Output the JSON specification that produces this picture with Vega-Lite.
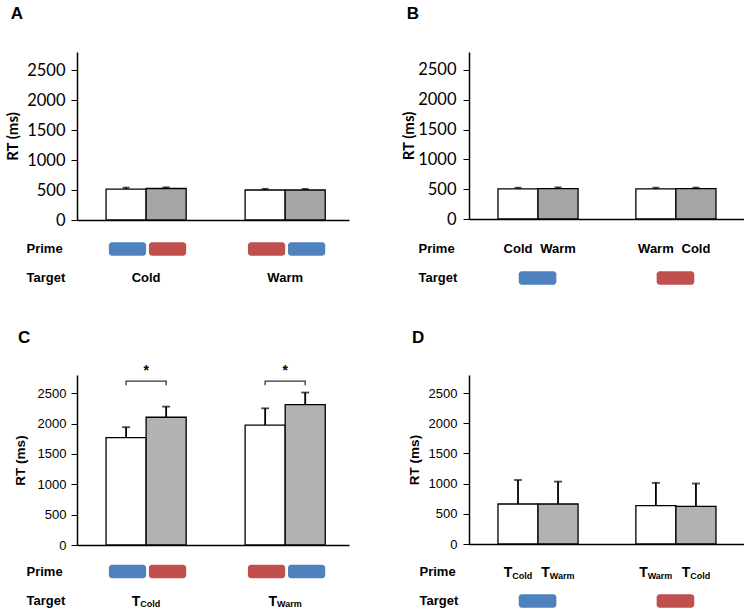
{
  "$schema": "https://vega.github.io/schema/vega-lite/v6.json",
  "background": "white",
  "padding": {"left": 5, "top": 5, "right": 0, "bottom": 0},
  "columns": 2,
  "spacing": {"row": 43, "column": 52},
  "datasets": {
    "A": [
      {"target": "Cold", "cong": "Congruent", "prime": "Cold", "rt": 515, "upper": 540},
      {"target": "Cold", "cong": "Incongruent", "prime": "Warm", "rt": 525, "upper": 545},
      {"target": "Warm", "cong": "Congruent", "prime": "Warm", "rt": 500, "upper": 520},
      {"target": "Warm", "cong": "Incongruent", "prime": "Cold", "rt": 500, "upper": 518}
    ],
    "B": [
      {"target": "Cold", "cong": "Congruent", "prime": "Cold", "rt": 505, "upper": 525},
      {"target": "Cold", "cong": "Incongruent", "prime": "Warm", "rt": 508, "upper": 530},
      {"target": "Warm", "cong": "Congruent", "prime": "Warm", "rt": 505, "upper": 525},
      {"target": "Warm", "cong": "Incongruent", "prime": "Cold", "rt": 508, "upper": 527}
    ],
    "C": [
      {"target": "Cold", "cong": "Congruent", "prime": "Cold", "rt": 1770, "upper": 1940},
      {"target": "Cold", "cong": "Incongruent", "prime": "Warm", "rt": 2104, "upper": 2279},
      {"target": "Warm", "cong": "Congruent", "prime": "Warm", "rt": 1974, "upper": 2251},
      {"target": "Warm", "cong": "Incongruent", "prime": "Cold", "rt": 2313, "upper": 2511}
    ],
    "D": [
      {"target": "Cold", "cong": "Congruent", "prime": "Cold", "rt": 663, "upper": 1061},
      {"target": "Cold", "cong": "Incongruent", "prime": "Warm", "rt": 663, "upper": 1034},
      {"target": "Warm", "cong": "Congruent", "prime": "Warm", "rt": 636, "upper": 1013},
      {"target": "Warm", "cong": "Incongruent", "prime": "Cold", "rt": 625, "upper": 1002}
    ],
    "groups": [{"target": "Cold"}, {"target": "Warm"}],
    "bracket": [
      {"target": "Cold", "cong": "Congruent", "y": 2630, "k": 1},
      {"target": "Cold", "cong": "Congruent", "y": 2700, "k": 2},
      {"target": "Cold", "cong": "Incongruent", "y": 2700, "k": 3},
      {"target": "Cold", "cong": "Incongruent", "y": 2630, "k": 4},
      {"target": "Warm", "cong": "Congruent", "y": 2630, "k": 1},
      {"target": "Warm", "cong": "Congruent", "y": 2700, "k": 2},
      {"target": "Warm", "cong": "Incongruent", "y": 2700, "k": 3},
      {"target": "Warm", "cong": "Incongruent", "y": 2630, "k": 4}
    ]
  },
  "concat": [
    {
      "width": 272, "height": 168,
      "title": {"text": "A", "anchor": "start", "frame": "bounds", "offset": 29, "dx": 5, "font": "Liberation Sans", "fontSize": 17, "fontWeight": "bold", "color": "black"},
      "layer": [
        {
          "data": {"name": "A"},
          "encoding": {
            "x": {"field": "target", "type": "nominal", "scale": {"domain": ["Cold", "Warm"], "paddingInner": 0.424, "paddingOuter": 0.19, "align": 0.55}, "axis": {"labels": false, "ticks": false, "title": null, "domainWidth": 1.5, "domainColor": "black"}},
            "xOffset": {"field": "cong", "type": "nominal", "scale": {"domain": ["Congruent", "Incongruent"], "paddingInner": 0, "paddingOuter": 0}}
          },
          "layer": [
            {"mark": {"type": "bar", "stroke": "black", "strokeWidth": 1.3},
             "encoding": {
               "y": {"field": "rt", "type": "quantitative", "scale": {"domain": [0, 2800], "nice": false}, "axis": {"orient": "left", "values": [0, 500, 1000, 1500, 2000, 2500], "format": "d", "labelOverlap": false, "title": "RT (ms)", "tickSize": 6, "tickColor": "black", "domainColor": "black", "domainWidth": 1.5, "labelFont": "Lato", "labelFontSize": 16.5, "labelColor": "black", "labelPadding": 6, "titleFont": "Lato", "titleFontSize": 15, "titleFontWeight": "bold", "titleColor": "black", "titlePadding": 6, "grid": false}},
               "fill": {"field": "cong", "type": "nominal", "scale": {"domain": ["Congruent", "Incongruent"], "range": ["#ffffff", "#a6a6a6"]}, "legend": null}
             }},
            {"mark": {"type": "rule", "color": "black", "strokeWidth": 1.8},
             "encoding": {"y": {"field": "rt", "type": "quantitative", "axis": {"orient": "left", "values": [0, 500, 1000, 1500, 2000, 2500], "format": "d", "labelOverlap": false, "title": "RT (ms)", "tickSize": 6, "tickColor": "black", "domainColor": "black", "domainWidth": 1.5, "labelFont": "Lato", "labelFontSize": 16.5, "labelColor": "black", "labelPadding": 6, "titleFont": "Lato", "titleFontSize": 15, "titleFontWeight": "bold", "titleColor": "black", "titlePadding": 6, "grid": false}}, "y2": {"field": "upper"}}},
            {"mark": {"type": "tick", "orient": "horizontal", "color": "black", "size": 7, "thickness": 1.8},
             "encoding": {"y": {"field": "upper", "type": "quantitative", "axis": {"orient": "left", "values": [0, 500, 1000, 1500, 2000, 2500], "format": "d", "labelOverlap": false, "title": "RT (ms)", "tickSize": 6, "tickColor": "black", "domainColor": "black", "domainWidth": 1.5, "labelFont": "Lato", "labelFontSize": 16.5, "labelColor": "black", "labelPadding": 6, "titleFont": "Lato", "titleFontSize": 15, "titleFontWeight": "bold", "titleColor": "black", "titlePadding": 6, "grid": false}}}}
          ]
        },
        {
          "layer": [
            {"data": {"name": "A"},
             "mark": {"type": "bar", "cornerRadius": 3, "width": {"band": 0.93}, "height": {"band": 0.46}},
             "encoding": {
               "x": {"field": "target", "type": "nominal", "scale": {"domain": ["Cold", "Warm"], "paddingInner": 0.424, "paddingOuter": 0.19, "align": 0.55}, "axis": {"labels": false, "ticks": false, "title": null, "domainWidth": 1.5, "domainColor": "black"}},
               "xOffset": {"field": "cong", "type": "nominal", "scale": {"domain": ["Congruent", "Incongruent"], "paddingInner": 0, "paddingOuter": 0}},
               "y": {"datum": "Prime", "type": "nominal", "scale": {"type": "band", "domain": ["Prime", "Target"], "range": [182.5, 240.5], "paddingInner": 0, "paddingOuter": 0}, "axis": {"orient": "left", "title": null, "domain": false, "ticks": false, "tickSize": 0, "labelAlign": "left", "labelPadding": 51, "labelFont": "Liberation Sans", "labelFontWeight": "bold", "labelFontSize": 13, "labelColor": "black", "grid": false}},
               "fill": {"field": "prime", "type": "nominal", "scale": {"domain": ["Cold", "Warm"], "range": ["#4f81bd", "#c0504d"]}, "legend": null}
             }},
            {"data": {"name": "groups"},
             "mark": {"type": "text", "font": "Liberation Sans", "fontWeight": "bold", "fontSize": 13, "color": "black", "baseline": "middle"},
             "encoding": {
               "x": {"field": "target", "type": "nominal"},
               "y": {"datum": "Target", "type": "nominal"},
               "text": {"field": "target"}
             }}
          ]
        }
      ],
      "resolve": {"scale": {"y": "independent", "fill": "independent"}, "axis": {"y": "independent"}}
    },
    {
      "width": 275, "height": 167,
      "title": {"text": "B", "anchor": "start", "frame": "bounds", "offset": 29, "dx": 5, "font": "Liberation Sans", "fontSize": 17, "fontWeight": "bold", "color": "black"},
      "layer": [
        {
          "data": {"name": "B"},
          "encoding": {
            "x": {"field": "target", "type": "nominal", "scale": {"domain": ["Cold", "Warm"], "paddingInner": 0.426, "paddingOuter": 0.21, "align": 0.5}, "axis": {"labels": false, "ticks": false, "title": null, "domainWidth": 1.5, "domainColor": "black"}},
            "xOffset": {"field": "cong", "type": "nominal", "scale": {"domain": ["Congruent", "Incongruent"], "paddingInner": 0, "paddingOuter": 0}}
          },
          "layer": [
            {"mark": {"type": "bar", "stroke": "black", "strokeWidth": 1.3},
             "encoding": {
               "y": {"field": "rt", "type": "quantitative", "scale": {"domain": [0, 2800], "nice": false}, "axis": {"orient": "left", "values": [0, 500, 1000, 1500, 2000, 2500], "format": "d", "labelOverlap": false, "title": "RT (ms)", "tickSize": 6, "tickColor": "black", "domainColor": "black", "domainWidth": 1.5, "labelFont": "Lato", "labelFontSize": 16.5, "labelColor": "black", "labelPadding": 7, "titleFont": "Lato", "titleFontSize": 15, "titleFontWeight": "bold", "titleColor": "black", "titlePadding": 1, "grid": false}},
               "fill": {"field": "cong", "type": "nominal", "scale": {"domain": ["Congruent", "Incongruent"], "range": ["#ffffff", "#a6a6a6"]}, "legend": null}
             }},
            {"mark": {"type": "rule", "color": "black", "strokeWidth": 1.8},
             "encoding": {"y": {"field": "rt", "type": "quantitative", "axis": {"orient": "left", "values": [0, 500, 1000, 1500, 2000, 2500], "format": "d", "labelOverlap": false, "title": "RT (ms)", "tickSize": 6, "tickColor": "black", "domainColor": "black", "domainWidth": 1.5, "labelFont": "Lato", "labelFontSize": 16.5, "labelColor": "black", "labelPadding": 7, "titleFont": "Lato", "titleFontSize": 15, "titleFontWeight": "bold", "titleColor": "black", "titlePadding": 1, "grid": false}}, "y2": {"field": "upper"}}},
            {"mark": {"type": "tick", "orient": "horizontal", "color": "black", "size": 7, "thickness": 1.8},
             "encoding": {"y": {"field": "upper", "type": "quantitative", "axis": {"orient": "left", "values": [0, 500, 1000, 1500, 2000, 2500], "format": "d", "labelOverlap": false, "title": "RT (ms)", "tickSize": 6, "tickColor": "black", "domainColor": "black", "domainWidth": 1.5, "labelFont": "Lato", "labelFontSize": 16.5, "labelColor": "black", "labelPadding": 7, "titleFont": "Lato", "titleFontSize": 15, "titleFontWeight": "bold", "titleColor": "black", "titlePadding": 1, "grid": false}}}}
          ]
        },
        {
          "layer": [
            {"data": {"name": "B"},
             "mark": {"type": "text", "font": "Liberation Sans", "fontWeight": "bold", "fontSize": 13, "color": "black", "baseline": "middle"},
             "encoding": {
               "x": {"field": "target", "type": "nominal", "scale": {"domain": ["Cold", "Warm"], "paddingInner": 0.426, "paddingOuter": 0.21, "align": 0.5}, "axis": {"labels": false, "ticks": false, "title": null, "domainWidth": 1.5, "domainColor": "black"}},
               "xOffset": {"field": "cong", "type": "nominal", "scale": {"domain": ["Congruent", "Incongruent"], "paddingInner": 0, "paddingOuter": 0}},
               "y": {"datum": "Prime", "type": "nominal", "scale": {"type": "band", "domain": ["Prime", "Target"], "range": [182.5, 240.5], "paddingInner": 0, "paddingOuter": 0}, "axis": {"orient": "left", "title": null, "domain": false, "ticks": false, "tickSize": 0, "labelAlign": "left", "labelPadding": 51, "labelFont": "Liberation Sans", "labelFontWeight": "bold", "labelFontSize": 13, "labelColor": "black", "grid": false}},
               "text": {"field": "prime"}
             }},
            {"data": {"name": "groups"},
             "mark": {"type": "bar", "cornerRadius": 3, "width": {"band": 0.475}, "height": {"band": 0.46}},
             "encoding": {
               "x": {"field": "target", "type": "nominal"},
               "y": {"datum": "Target", "type": "nominal"},
               "fill": {"field": "target", "type": "nominal", "scale": {"domain": ["Cold", "Warm"], "range": ["#4f81bd", "#c0504d"]}, "legend": null}
             }}
          ]
        }
      ],
      "resolve": {"scale": {"y": "independent", "fill": "independent"}, "axis": {"y": "independent"}}
    },
    {
      "width": 272, "height": 170,
      "title": {"text": "C", "anchor": "start", "frame": "bounds", "offset": 17, "dx": 5, "font": "Liberation Sans", "fontSize": 17, "fontWeight": "bold", "color": "black"},
      "layer": [
        {
          "encoding": {
            "x": {"field": "target", "type": "nominal", "scale": {"domain": ["Cold", "Warm"], "paddingInner": 0.424, "paddingOuter": 0.19, "align": 0.55}, "axis": {"labels": false, "ticks": false, "title": null, "domainWidth": 1.5, "domainColor": "black"}}
          },
          "layer": [
            {"data": {"name": "C"},
             "mark": {"type": "bar", "stroke": "black", "strokeWidth": 1.3},
             "encoding": {
               "xOffset": {"field": "cong", "type": "nominal", "scale": {"domain": ["Congruent", "Incongruent"], "paddingInner": 0, "paddingOuter": 0}},
               "y": {"field": "rt", "type": "quantitative", "scale": {"domain": [0, 2800], "nice": false}, "axis": {"orient": "left", "values": [0, 500, 1000, 1500, 2000, 2500], "format": "d", "labelOverlap": false, "title": "RT (ms)", "tickSize": 6, "tickColor": "black", "domainColor": "black", "domainWidth": 1.5, "labelFont": "Liberation Sans", "labelFontSize": 13, "labelColor": "black", "labelPadding": 5, "titleFont": "Liberation Sans", "titleFontSize": 13.5, "titleFontWeight": "bold", "titleColor": "black", "titlePadding": 10, "grid": false}},
               "fill": {"field": "cong", "type": "nominal", "scale": {"domain": ["Congruent", "Incongruent"], "range": ["#ffffff", "#b2b2b2"]}, "legend": null}
             }},
            {"data": {"name": "C"},
             "mark": {"type": "rule", "color": "black", "strokeWidth": 1.8},
             "encoding": {"xOffset": {"field": "cong", "type": "nominal"}, "y": {"field": "rt", "type": "quantitative", "axis": {"orient": "left", "values": [0, 500, 1000, 1500, 2000, 2500], "format": "d", "labelOverlap": false, "title": "RT (ms)", "tickSize": 6, "tickColor": "black", "domainColor": "black", "domainWidth": 1.5, "labelFont": "Liberation Sans", "labelFontSize": 13, "labelColor": "black", "labelPadding": 5, "titleFont": "Liberation Sans", "titleFontSize": 13.5, "titleFontWeight": "bold", "titleColor": "black", "titlePadding": 10, "grid": false}}, "y2": {"field": "upper"}}},
            {"data": {"name": "C"},
             "mark": {"type": "tick", "orient": "horizontal", "color": "black", "size": 8, "thickness": 1.8},
             "encoding": {"xOffset": {"field": "cong", "type": "nominal"}, "y": {"field": "upper", "type": "quantitative", "axis": {"orient": "left", "values": [0, 500, 1000, 1500, 2000, 2500], "format": "d", "labelOverlap": false, "title": "RT (ms)", "tickSize": 6, "tickColor": "black", "domainColor": "black", "domainWidth": 1.5, "labelFont": "Liberation Sans", "labelFontSize": 13, "labelColor": "black", "labelPadding": 5, "titleFont": "Liberation Sans", "titleFontSize": 13.5, "titleFontWeight": "bold", "titleColor": "black", "titlePadding": 10, "grid": false}}}},
            {"data": {"name": "bracket"},
             "mark": {"type": "line", "color": "#333333", "strokeWidth": 1.3},
             "encoding": {"xOffset": {"field": "cong", "type": "nominal"}, "y": {"field": "y", "type": "quantitative", "axis": {"orient": "left", "values": [0, 500, 1000, 1500, 2000, 2500], "format": "d", "labelOverlap": false, "title": "RT (ms)", "tickSize": 6, "tickColor": "black", "domainColor": "black", "domainWidth": 1.5, "labelFont": "Liberation Sans", "labelFontSize": 13, "labelColor": "black", "labelPadding": 5, "titleFont": "Liberation Sans", "titleFontSize": 13.5, "titleFontWeight": "bold", "titleColor": "black", "titlePadding": 10, "grid": false}}, "detail": {"field": "target"}, "order": {"field": "k"}}},
            {"data": {"name": "groups"},
             "mark": {"type": "text", "text": "*", "font": "Liberation Sans", "fontSize": 14, "fontWeight": "bold", "color": "black", "baseline": "middle"},
             "encoding": {"y": {"datum": 2870, "type": "quantitative", "axis": {"orient": "left", "values": [0, 500, 1000, 1500, 2000, 2500], "format": "d", "labelOverlap": false, "title": "RT (ms)", "tickSize": 6, "tickColor": "black", "domainColor": "black", "domainWidth": 1.5, "labelFont": "Liberation Sans", "labelFontSize": 13, "labelColor": "black", "labelPadding": 5, "titleFont": "Liberation Sans", "titleFontSize": 13.5, "titleFontWeight": "bold", "titleColor": "black", "titlePadding": 10, "grid": false}}}}
          ]
        },
        {
          "layer": [
            {"data": {"name": "C"},
             "mark": {"type": "bar", "cornerRadius": 3, "width": {"band": 0.93}, "height": {"band": 0.46}},
             "encoding": {
               "x": {"field": "target", "type": "nominal", "scale": {"domain": ["Cold", "Warm"], "paddingInner": 0.424, "paddingOuter": 0.19, "align": 0.55}, "axis": {"labels": false, "ticks": false, "title": null, "domainWidth": 1.5, "domainColor": "black"}},
               "xOffset": {"field": "cong", "type": "nominal", "scale": {"domain": ["Congruent", "Incongruent"], "paddingInner": 0, "paddingOuter": 0}},
               "y": {"datum": "Prime", "type": "nominal", "scale": {"type": "band", "domain": ["Prime", "Target"], "range": [182, 240], "paddingInner": 0, "paddingOuter": 0}, "axis": {"orient": "left", "title": null, "domain": false, "ticks": false, "tickSize": 0, "labelAlign": "left", "labelPadding": 51, "labelFont": "Liberation Sans", "labelFontWeight": "bold", "labelFontSize": 13, "labelColor": "black", "grid": false}},
               "fill": {"field": "prime", "type": "nominal", "scale": {"domain": ["Cold", "Warm"], "range": ["#4f81bd", "#c0504d"]}, "legend": null}
             }},
            {"data": {"name": "groups"},
             "mark": {"type": "text", "text": "T", "align": "right", "baseline": "alphabetic", "dy": 5, "dx": {"expr": "datum.target == 'Cold' ? -5.75 : -8.2"}, "font": "Liberation Sans", "fontWeight": "bold", "fontSize": 14, "color": "black"},
             "encoding": {"x": {"field": "target", "type": "nominal"}, "y": {"datum": "Target", "type": "nominal"}}},
            {"data": {"name": "groups"},
             "mark": {"type": "text", "align": "left", "baseline": "alphabetic", "dy": 6.5, "dx": {"expr": "datum.target == 'Cold' ? -5.75 : -8.2"}, "font": "Liberation Sans", "fontWeight": "bold", "fontSize": 9, "color": "black"},
             "encoding": {"x": {"field": "target", "type": "nominal"}, "y": {"datum": "Target", "type": "nominal"}, "text": {"field": "target"}}}
          ]
        }
      ],
      "resolve": {"scale": {"y": "independent", "fill": "independent"}, "axis": {"y": "independent"}}
    },
    {
      "width": 275, "height": 169,
      "title": {"text": "D", "anchor": "start", "frame": "bounds", "offset": 28, "dx": 5, "font": "Liberation Sans", "fontSize": 17, "fontWeight": "bold", "color": "black"},
      "layer": [
        {
          "data": {"name": "D"},
          "encoding": {
            "x": {"field": "target", "type": "nominal", "scale": {"domain": ["Cold", "Warm"], "paddingInner": 0.426, "paddingOuter": 0.21, "align": 0.5}, "axis": {"labels": false, "ticks": false, "title": null, "domainWidth": 1.5, "domainColor": "black"}},
            "xOffset": {"field": "cong", "type": "nominal", "scale": {"domain": ["Congruent", "Incongruent"], "paddingInner": 0, "paddingOuter": 0}}
          },
          "layer": [
            {"mark": {"type": "bar", "stroke": "black", "strokeWidth": 1.3},
             "encoding": {
               "y": {"field": "rt", "type": "quantitative", "scale": {"domain": [0, 2800], "nice": false}, "axis": {"orient": "left", "values": [0, 500, 1000, 1500, 2000, 2500], "format": "d", "labelOverlap": false, "title": "RT (ms)", "tickSize": 6, "tickColor": "black", "domainColor": "black", "domainWidth": 1.5, "labelFont": "Liberation Sans", "labelFontSize": 13, "labelColor": "black", "labelPadding": 6, "titleFont": "Liberation Sans", "titleFontSize": 13.5, "titleFontWeight": "bold", "titleColor": "black", "titlePadding": 7, "grid": false}},
               "fill": {"field": "cong", "type": "nominal", "scale": {"domain": ["Congruent", "Incongruent"], "range": ["#ffffff", "#b2b2b2"]}, "legend": null}
             }},
            {"mark": {"type": "rule", "color": "black", "strokeWidth": 1.8},
             "encoding": {"y": {"field": "rt", "type": "quantitative", "axis": {"orient": "left", "values": [0, 500, 1000, 1500, 2000, 2500], "format": "d", "labelOverlap": false, "title": "RT (ms)", "tickSize": 6, "tickColor": "black", "domainColor": "black", "domainWidth": 1.5, "labelFont": "Liberation Sans", "labelFontSize": 13, "labelColor": "black", "labelPadding": 6, "titleFont": "Liberation Sans", "titleFontSize": 13.5, "titleFontWeight": "bold", "titleColor": "black", "titlePadding": 7, "grid": false}}, "y2": {"field": "upper"}}},
            {"mark": {"type": "tick", "orient": "horizontal", "color": "black", "size": 8, "thickness": 1.8},
             "encoding": {"y": {"field": "upper", "type": "quantitative", "axis": {"orient": "left", "values": [0, 500, 1000, 1500, 2000, 2500], "format": "d", "labelOverlap": false, "title": "RT (ms)", "tickSize": 6, "tickColor": "black", "domainColor": "black", "domainWidth": 1.5, "labelFont": "Liberation Sans", "labelFontSize": 13, "labelColor": "black", "labelPadding": 6, "titleFont": "Liberation Sans", "titleFontSize": 13.5, "titleFontWeight": "bold", "titleColor": "black", "titlePadding": 7, "grid": false}}}}
          ]
        },
        {
          "layer": [
            {"data": {"name": "D"},
             "mark": {"type": "text", "text": "T", "align": "right", "baseline": "alphabetic", "dy": 5, "dx": {"expr": "datum.prime == 'Cold' ? -5.75 : -8.2"}, "font": "Liberation Sans", "fontWeight": "bold", "fontSize": 14, "color": "black"},
             "encoding": {
               "x": {"field": "target", "type": "nominal", "scale": {"domain": ["Cold", "Warm"], "paddingInner": 0.426, "paddingOuter": 0.21, "align": 0.5}, "axis": {"labels": false, "ticks": false, "title": null, "domainWidth": 1.5, "domainColor": "black"}},
               "xOffset": {"field": "cong", "type": "nominal", "scale": {"domain": ["Congruent", "Incongruent"], "paddingInner": 0, "paddingOuter": 0}},
               "y": {"datum": "Prime", "type": "nominal", "scale": {"type": "band", "domain": ["Prime", "Target"], "range": [182.5, 240.5], "paddingInner": 0, "paddingOuter": 0}, "axis": {"orient": "left", "title": null, "domain": false, "ticks": false, "tickSize": 0, "labelAlign": "left", "labelPadding": 50, "labelFont": "Liberation Sans", "labelFontWeight": "bold", "labelFontSize": 13, "labelColor": "black", "grid": false}}
             }},
            {"data": {"name": "D"},
             "mark": {"type": "text", "align": "left", "baseline": "alphabetic", "dy": 6.5, "dx": {"expr": "datum.prime == 'Cold' ? -5.75 : -8.2"}, "font": "Liberation Sans", "fontWeight": "bold", "fontSize": 9, "color": "black"},
             "encoding": {
               "x": {"field": "target", "type": "nominal"},
               "xOffset": {"field": "cong", "type": "nominal"},
               "y": {"datum": "Prime", "type": "nominal"},
               "text": {"field": "prime"}
             }},
            {"data": {"name": "groups"},
             "mark": {"type": "bar", "cornerRadius": 3, "width": {"band": 0.475}, "height": {"band": 0.46}},
             "encoding": {
               "x": {"field": "target", "type": "nominal"},
               "y": {"datum": "Target", "type": "nominal"},
               "fill": {"field": "target", "type": "nominal", "scale": {"domain": ["Cold", "Warm"], "range": ["#4f81bd", "#c0504d"]}, "legend": null}
             }}
          ]
        }
      ],
      "resolve": {"scale": {"y": "independent", "fill": "independent"}, "axis": {"y": "independent"}}
    }
  ],
  "config": {"view": {"stroke": null}, "axis": {"grid": false}}
}
